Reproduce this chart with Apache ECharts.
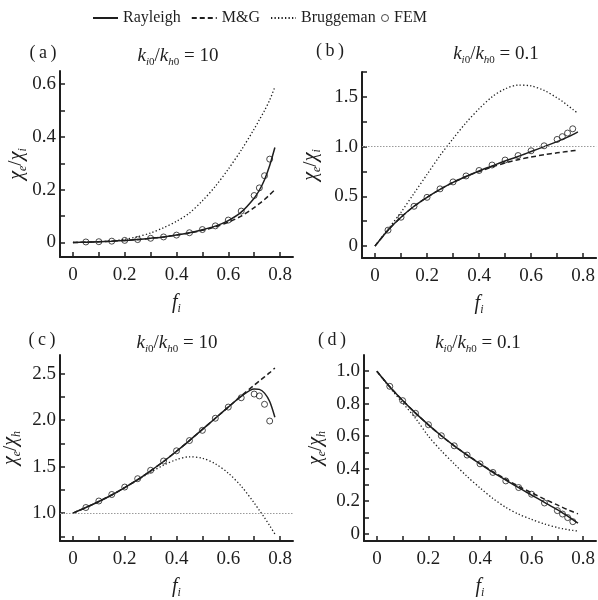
<!DOCTYPE html>
<html><head><meta charset="utf-8">
<script src="https://cdn.jsdelivr.net/npm/echarts@6/dist/echarts.min.js"></script>
<style>html,body{margin:0;padding:0;background:#fff}#c{width:598px;height:600px}</style>
</head><body><div id="c"></div>
<script>
// ---------- data ----------
const curveF = [0,0.05,0.1,0.15,0.2,0.25,0.3,0.35,0.4,0.45,0.5,0.55,0.6,0.65,0.7,0.72,0.74,0.76,0.78];
const femF = [0.05,0.1,0.15,0.2,0.25,0.3,0.35,0.4,0.45,0.5,0.55,0.6,0.65,0.7,0.72,0.74,0.76];

const aRayleigh  = [0,0.001,0.003,0.005,0.008,0.011,0.016,0.021,0.028,0.037,0.048,0.062,0.083,0.115,0.168,0.198,0.238,0.292,0.36];
const aMG        = [0,0.001,0.003,0.005,0.008,0.011,0.016,0.021,0.028,0.036,0.046,0.059,0.077,0.1,0.132,0.147,0.163,0.181,0.2];
const aBrugg     = [0,0.001,0.003,0.006,0.012,0.022,0.036,0.056,0.08,0.112,0.158,0.213,0.278,0.35,0.43,0.465,0.5,0.54,0.59];
const aFEM       = [0.002,0.003,0.005,0.008,0.011,0.016,0.021,0.028,0.037,0.049,0.063,0.085,0.119,0.178,0.207,0.253,0.316];

const bRayleigh  = [0,0.16,0.29,0.4,0.49,0.57,0.64,0.7,0.755,0.805,0.855,0.9,0.95,1.0,1.05,1.072,1.095,1.12,1.148];
const bMG        = [0,0.16,0.29,0.4,0.49,0.57,0.64,0.7,0.75,0.795,0.835,0.868,0.895,0.918,0.937,0.944,0.951,0.958,0.965];
const bBrugg     = [0,0.17,0.34,0.53,0.72,0.91,1.08,1.24,1.38,1.5,1.58,1.618,1.61,1.565,1.49,1.455,1.415,1.375,1.333];
const bFEM       = [0.16,0.29,0.4,0.49,0.575,0.645,0.705,0.76,0.815,0.865,0.91,0.958,1.008,1.072,1.1,1.136,1.179];

const cRayleigh  = [1.0,1.06,1.125,1.195,1.275,1.36,1.455,1.555,1.665,1.78,1.9,2.02,2.14,2.255,2.335,2.33,2.29,2.2,2.03];
const cMG        = [1.0,1.06,1.125,1.195,1.275,1.36,1.455,1.555,1.665,1.78,1.9,2.02,2.14,2.26,2.375,2.42,2.465,2.51,2.56];
const cBrugg     = [1.0,1.06,1.125,1.195,1.275,1.355,1.44,1.515,1.575,1.605,1.59,1.53,1.43,1.29,1.11,1.03,0.95,0.865,0.775];
const cFEM       = [1.06,1.13,1.2,1.28,1.37,1.46,1.56,1.67,1.78,1.89,2.02,2.14,2.24,2.28,2.26,2.17,1.99];

const dRayleigh  = [1.0,0.905,0.82,0.742,0.67,0.603,0.541,0.484,0.43,0.378,0.33,0.283,0.238,0.193,0.148,0.128,0.108,0.087,0.065];
const dMG        = [1.0,0.905,0.82,0.742,0.67,0.603,0.541,0.485,0.432,0.382,0.335,0.292,0.252,0.213,0.177,0.162,0.148,0.135,0.122];
const dBrugg     = [1.0,0.9,0.805,0.71,0.6,0.51,0.43,0.352,0.282,0.217,0.162,0.12,0.088,0.06,0.038,0.031,0.025,0.02,0.016];
const dFEM       = [0.907,0.819,0.741,0.671,0.603,0.541,0.484,0.43,0.377,0.325,0.284,0.243,0.189,0.142,0.121,0.099,0.074];

const xTicks = [0,0.1,0.2,0.3,0.4,0.5,0.6,0.7,0.8];
const xTickLabels = [0,0.2,0.4,0.6,0.8];
const yTicksA = [0,0.1,0.2,0.3,0.4,0.5,0.6];
const yLabelsA = [0,0.2,0.4,0.6];
const yTicksB = [0,0.25,0.5,0.75,1.0,1.25,1.5,1.75];
const yLabelsB = [0,0.5,1.0,1.5];
const yTicksC = [0.75,1.0,1.25,1.5,1.75,2.0,2.25,2.5];
const yLabelsC = [1.0,1.5,2.0,2.5];
const yTicksD = [0,0.1,0.2,0.3,0.4,0.5,0.6,0.7,0.8,0.9,1.0];
const yLabelsD = [0,0.2,0.4,0.6,0.8,1.0];

const panelLetters = ['(a)','(b)','(c)','(d)'];
const ratioTexts = ['10','0.1','10','0.1'];
const seriesNames = ['Rayleigh','M&G','Bruggeman','FEM'];

// ---------- styling ----------
const FONT = "'Liberation Serif','Times New Roman',serif";
const INK = '#1e1e1e';
const grids = [
  {left:60, top:71, width:233, height:186},
  {left:362, top:72, width:236, height:186},
  {left:60, top:355, width:233, height:187},
  {left:364, top:355, width:234, height:187}
];
const yRanges = [[-0.055,0.65],[-0.12,1.75],[0.7,2.7],[-0.045,1.1]];
const yTicks = [yTicksA,yTicksB,yTicksC,yTicksD];
const yLabels = [yLabelsA,yLabelsB,yLabelsC,yLabelsD];
const yNameGaps = [31,39,37,36];
const curves = [[aRayleigh,aMG,aBrugg],[bRayleigh,bMG,bBrugg],[cRayleigh,cMG,cBrugg],[dRayleigh,dMG,dBrugg]];
const fems = [aFEM,bFEM,cFEM,dFEM];
const yNames = ['i','i','h','h'];
const refLine = [false,true,true,false];

const fmt = v => (Math.abs(v) < 1e-9 ? '0' : Number(v).toFixed(1));
const pair = (xs, ys) => xs.map((x,i)=>[x, ys[i]]);

const subRich = {
  g:{fontFamily:FONT,fontSize:20,fontStyle:'italic',fontWeight:'normal',color:INK,lineHeight:24,verticalAlign:'middle'},
  s:{fontFamily:FONT,fontSize:12,fontStyle:'italic',fontWeight:'normal',color:INK,lineHeight:12,verticalAlign:'bottom'},
  t:{fontFamily:FONT,fontSize:19,fontWeight:'normal',color:INK,lineHeight:24,verticalAlign:'middle'}
};

const xAxes = [], yAxes = [], series = [], titles = [];
grids.forEach((g,i)=>{
  xAxes.push({
    type:'value', gridIndex:i, min:-0.05, max:0.85,
    name:'{g|f}{s|i}', nameLocation:'middle', nameGap:34,
    nameTextStyle:{rich:subRich},
    axisLine:{show:true, onZero:false, lineStyle:{color:INK,width:2}},
    axisTick:{show:true, inside:true, length:5, lineStyle:{color:INK,width:1.5}, customValues:xTicks},
    axisLabel:{show:true, margin:9, fontFamily:FONT, fontSize:19, color:INK, customValues:xTickLabels, formatter:fmt},
    splitLine:{show:false}
  });
  yAxes.push({
    type:'value', gridIndex:i, min:yRanges[i][0], max:yRanges[i][1],
    name:'{g|χ}{s|e}{t|/}{g|χ}{s|'+yNames[i]+'}', nameLocation:'middle', nameRotate:90, nameGap:yNameGaps[i],
    nameTextStyle:{rich:subRich},
    axisLine:{show:true, onZero:false, lineStyle:{color:INK,width:2}},
    axisTick:{show:true, inside:true, length:5, lineStyle:{color:INK,width:1.5}, customValues:yTicks[i]},
    axisLabel:{show:true, margin:4, fontFamily:FONT, fontSize:19, color:INK, customValues:yLabels[i], formatter:fmt},
    splitLine:{show:false}
  });
  const [ray, mg, br] = curves[i];
  const base = {type:'line', xAxisIndex:i, yAxisIndex:i, symbol:'none', smooth:0.3, silent:true, z:3};
  const rs = Object.assign({}, base, {name:seriesNames[0], data:pair(curveF, ray), lineStyle:{color:INK,width:1.5,type:'solid'}, itemStyle:{color:INK}});
  if (refLine[i]) {
    rs.markLine = {silent:true, symbol:'none', label:{show:false}, lineStyle:{color:'#9a9a9a', width:1, type:[1.5,1.5]}, data:[{yAxis:1.0}]};
  }
  series.push(rs);
  series.push(Object.assign({}, base, {name:seriesNames[1], data:pair(curveF, mg), lineStyle:{color:INK,width:1.5,type:[5,3]}, itemStyle:{color:INK}}));
  series.push(Object.assign({}, base, {name:seriesNames[2], data:pair(curveF, br), lineStyle:{color:INK,width:1.3,type:[1.3,2.2]}, itemStyle:{color:INK}}));
  series.push({type:'scatter', name:seriesNames[3], xAxisIndex:i, yAxisIndex:i, silent:true, z:4,
    symbol:'circle', symbolSize:6, data:pair(femF, fems[i]),
    itemStyle:{color:'rgba(255,255,255,0)', borderColor:INK, borderWidth:1}});
});

const titlePos = [
  {lx:38, tx:173, y:51},
  {lx:325, tx:491, y:49},
  {lx:37, tx:172, y:338},
  {lx:327, tx:473, y:338}
];
const titleRich = {
  k:{fontFamily:FONT,fontSize:19,fontStyle:'italic',fontWeight:'normal',color:INK,lineHeight:24,verticalAlign:'middle'},
  s:{fontFamily:FONT,fontSize:11,fontStyle:'italic',fontWeight:'normal',color:INK,lineHeight:12,verticalAlign:'bottom'},
  n:{fontFamily:FONT,fontSize:11,fontWeight:'normal',color:INK,lineHeight:12,verticalAlign:'bottom'},
  t:{fontFamily:FONT,fontSize:19,fontWeight:'normal',color:INK,lineHeight:24,verticalAlign:'middle'}
};
titlePos.forEach((p,i)=>{
  titles.push({text:panelLetters[i].replace('(','(\u2009').replace(')','\u2009)'), left:p.lx, top:p.y-12, textAlign:'center',
    textStyle:{fontFamily:FONT,fontSize:18,fontWeight:'normal',color:INK}});
  titles.push({text:'{k|k}{s|i}{n|0}{t|/}{k|k}{s|h}{n|0}{t| = '+ratioTexts[i]+'}', left:p.tx, top:p.y-12, textAlign:'center',
    textStyle:{fontWeight:'normal',rich:titleRich}});
});

const legendText = {fontFamily:FONT,fontSize:16,color:INK};
const chart = echarts.init(document.getElementById('c'), null, {renderer:'canvas'});
chart.setOption({
  animation:false,
  backgroundColor:'#fff',
  title:titles,
  legend:[
    {top:10, left:92, padding:0, itemWidth:25, itemHeight:8, itemGap:10, itemTextGap:5, selectedMode:false,
     textStyle:legendText,
     itemStyle:{color:'rgba(0,0,0,0)', borderWidth:0, opacity:0},
     data:['Rayleigh','M&G','Bruggeman']},
    {top:10, left:381, padding:0, itemWidth:8, itemHeight:7, itemTextGap:6, selectedMode:false,
     textStyle:legendText,
     data:[{name:'FEM', icon:'circle', itemStyle:{color:'rgba(255,255,255,0)', borderColor:INK, borderWidth:1}}]}
  ],
  grid:grids,
  xAxis:xAxes,
  yAxis:yAxes,
  series:series
});
</script>
</body></html>
